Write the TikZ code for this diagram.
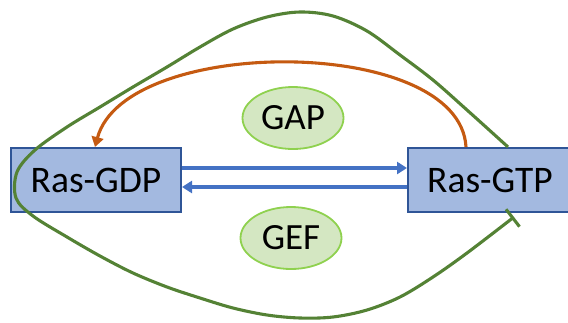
\documentclass[tikz,border=0pt]{standalone}
\usepackage{fontspec}
\setmainfont{Carlito}
\usepackage{xcolor}
\usetikzlibrary{arrows.meta,positioning,calc,shapes.geometric}
\definecolor{boxfill}{HTML}{A3B9E0}
\definecolor{boxline}{HTML}{2F5597}
\definecolor{flowblue}{HTML}{4472C4}
\definecolor{gaporange}{HTML}{C55A11}
\definecolor{loopgreen}{HTML}{548235}
\definecolor{enzfill}{HTML}{D4E7C2}
\definecolor{enzline}{HTML}{8FD14F}
\tikzset{
  rasbox/.style={draw=boxline, fill=boxfill, line width=2pt, inner sep=0pt,
                 minimum height=64pt, font=\fontsize{37.5}{40}\selectfont},
  enzyme/.style={ellipse, draw=enzline, fill=enzfill, line width=1.8pt, inner sep=0pt,
                 minimum width=101pt, minimum height=62pt, font=\fontsize{37}{40}\selectfont},
  flow/.style={draw=flowblue, line width=3.3pt, -{Triangle[length=10pt,width=12pt]}},
  hydro/.style={draw=gaporange, line width=3.1pt, -{Triangle[length=10pt,width=12pt]}},
  inhib/.style={draw=loopgreen, line width=3.1pt, -{Bar[width=22pt,line width=3.1pt]}}
}
\begin{document}
\begin{tikzpicture}[x=1pt,y=-1pt]
  \useasboundingbox (0,0) rectangle (568,322);

  \node[rasbox, minimum width=170pt] (gdp) at (96,180) {Ras-GDP};
  \node[rasbox, minimum width=164pt] (gtp) at (490,180) {Ras-GTP};

  \node[enzyme] (gap) at (293,118) {GAP};
  \node[enzyme] (gef) at (291,238) {GEF};

  % exchange arrows
  \draw[flow] ([yshift=12pt]gdp.east) -- ([yshift=12pt]gtp.west);
  \draw[flow] ([yshift=-7pt]gtp.west) -- ([yshift=-7pt]gdp.east);

  % GAP: back to GDP
  \draw[hydro] ([xshift=-24pt]gtp.north) .. controls (460,35) and (125,35) .. ([xshift=-1pt]gdp.north);

  % feedback loop round both boxes
  \draw[inhib] plot[smooth, tension=0.55] coordinates {
    ([xshift=18pt]gtp.north) (467,110) (433,80) (400,55) (367,31) (333,16) (300,12)
    (267,17) (233,29) (200,47) (167,67) (133,87) (100,107) (67,127) (35,150)
    (17,172) (16,198) (33,216) (67,237) (100,256) (133,273) (167,287) (200,298)
    (233,308) (267,315) (300,318) (333,317) (367,310) (400,297) (433,277)
    (467,253) ([xshift=24pt,yshift=-4pt]gtp.south)
  };
\end{tikzpicture}
\end{document}
